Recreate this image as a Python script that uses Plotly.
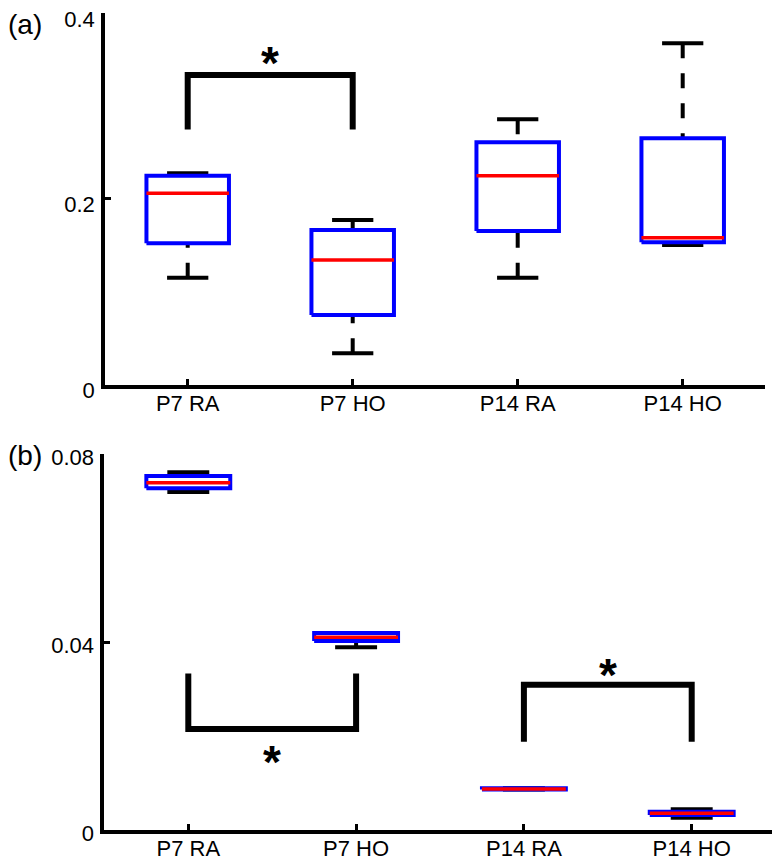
import plotly.graph_objects as go

# ---------------- data ----------------
categories = ["P7 RA", "P7 HO", "P14 RA", "P14 HO"]
positions = [1, 2, 3, 4]

# panel (a)
a_lower = [0.115, 0.0336, 0.115, 0.1502]
a_q1 = [0.152, 0.0748, 0.1653, 0.1531]
a_median = [0.2059, 0.1340, 0.2248, 0.1581]
a_q3 = [0.2248, 0.1664, 0.2608, 0.2651]
a_upper = [0.2274, 0.1771, 0.2855, 0.3674]

# panel (b)
b_lower = [0.0719, 0.0389, 0.0086, 0.0026]
b_q1 = [0.0727, 0.0402, 0.0086, 0.0032]
b_median = [0.0739, 0.0410, 0.0087, 0.00355]
b_q3 = [0.0753, 0.0419, 0.0089, 0.0039]
b_upper = [0.0761, 0.0419, 0.0089, 0.0044]

# significance brackets: (left group, right group, leg end, bar level, star level)
a_sig = [(1, 2, 0.2745, 0.3332, 0.3566)]
b_sig = [(1, 2, 0.0333, 0.0215, 0.0167), (3, 4, 0.0188, 0.0309, 0.0351)]

a_yticks = [0, 0.2, 0.4]
a_yticklabels = ["0", "0.2", "0.4"]
b_yticks = [0, 0.04, 0.08]
b_yticklabels = ["0", "0.04", "0.08"]

# ---------------- style ----------------
BOX_HALF = 0.25
CAP_HALF = 0.125
BLUE = "#0000FF"
RED = "#FF0000"
FONT = "Liberation Sans, Arial, sans-serif"

fig = go.Figure()


def add_line(x, y, color, width, dash="solid", xa="x", ya="y"):
    fig.add_trace(go.Scatter(x=x, y=y, mode="lines", xaxis=xa, yaxis=ya,
                             line=dict(color=color, width=width, dash=dash),
                             hoverinfo="skip", showlegend=False))


def add_boxes(lo, q1, med, q3, hi, xa, ya):
    for p, l, a, m, b, h in zip(positions, lo, q1, med, q3, hi):
        # whiskers (dashed, from cap toward box)
        add_line([p, p], [h, b], "black", 4, "15px,15px", xa, ya)
        add_line([p, p], [l, a], "black", 4, "15px,15px", xa, ya)
        # caps
        add_line([p - CAP_HALF, p + CAP_HALF], [h, h], "black", 4, "solid", xa, ya)
        add_line([p - CAP_HALF, p + CAP_HALF], [l, l], "black", 4, "solid", xa, ya)
        # box
        add_line([p - BOX_HALF, p + BOX_HALF, p + BOX_HALF, p - BOX_HALF, p - BOX_HALF],
                 [a, a, b, b, a], BLUE, 4, "solid", xa, ya)
        # median
        add_line([p - BOX_HALF, p + BOX_HALF], [m, m], RED, 3.5, "solid", xa, ya)


def add_sig(sig, xa, ya, xref, yref):
    for g1, g2, leg, bar, star in sig:
        add_line([g1, g1, g2, g2], [leg, bar, bar, leg], "black", 6, "solid", xa, ya)
        fig.add_annotation(x=(g1 + g2) / 2, y=star, xref=xref, yref=yref, text="<b>*</b>",
                           showarrow=False, yanchor="middle", yshift=-10,
                           font=dict(family=FONT, size=46, color="black"))


add_boxes(a_lower, a_q1, a_median, a_q3, a_upper, "x", "y")
add_boxes(b_lower, b_q1, b_median, b_q3, b_upper, "x2", "y2")
add_sig(a_sig, "x", "y", "x", "y")
add_sig(b_sig, "x2", "y2", "x2", "y2")

W, H = 780, 861
OFF = 8  # page body margin


def fx(px):
    return (px - OFF) / W


def fy(py):
    return 1 - (py - OFF) / H


axis_common = dict(showline=True, linecolor="black", linewidth=4, showgrid=False,
                   zeroline=False, ticks="inside", ticklen=6, tickwidth=3,
                   tickcolor="black", fixedrange=True, automargin=False,
                   ticklabeloverflow="allow",
                   tickfont=dict(family=FONT, size=22, color="black"))

fig.update_layout(
    template="none",
    width=W, height=H,
    margin=dict(l=0, r=0, t=0, b=0, pad=0),
    paper_bgcolor="white", plot_bgcolor="white",
    xaxis=dict(axis_common, domain=[fx(105.2), fx(765.2)], range=[0.5, 4.5],
               tickvals=positions, ticktext=categories, anchor="y", ticklabelstandoff=-4),
    yaxis=dict(axis_common, domain=[fy(384.5), fy(13)], range=[0, 0.4],
               tickvals=a_yticks, ticktext=a_yticklabels, anchor="x",
               ticklabelstandoff=2, ticklabelshift=6),
    xaxis2=dict(axis_common, domain=[fx(104.4), fx(775.6)], range=[0.5, 4.5],
                tickvals=positions, ticktext=categories, anchor="y2", ticklabelstandoff=-4),
    yaxis2=dict(axis_common, domain=[fy(830), fy(454)], range=[0, 0.08],
                tickvals=b_yticks, ticktext=b_yticklabels, anchor="x2",
                ticklabelstandoff=2, ticklabelshift=3),
)

fig.add_annotation(x=0, y=1, xref="paper", yref="paper", text="(a)", showarrow=False,
                   xanchor="left", yanchor="top", xshift=-2, yshift=1,
                   font=dict(family=FONT, size=28, color="black"))
fig.add_annotation(x=0, y=fy(438), xref="paper", yref="paper", text="(b)", showarrow=False,
                   xanchor="left", yanchor="top", xshift=-2, yshift=0,
                   font=dict(family=FONT, size=28, color="black"))

fig.write_html("out.html")
